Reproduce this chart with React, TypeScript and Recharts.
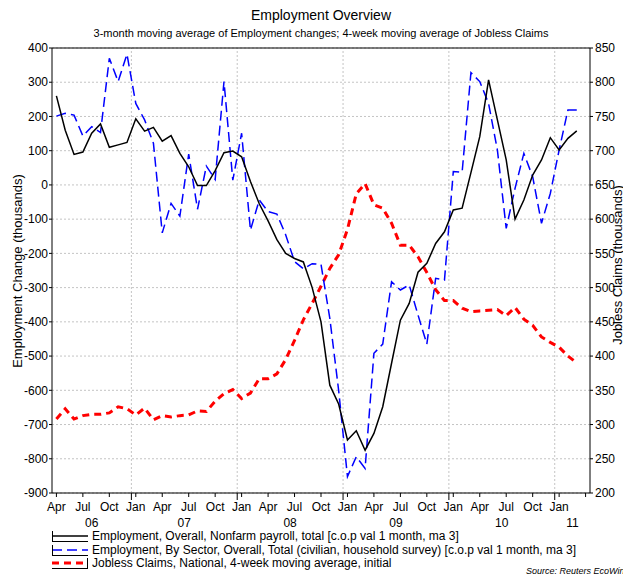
import React from "react";
import { CartesianGrid, Line, LineChart, ReferenceLine, XAxis, YAxis } from "recharts";

// Monthly points, Apr 2006 .. Mar 2011 (x = months since Jan 2006, plotted mid-month)
const MONTHS: number[] = Array.from({ length: 60 }, (_, i) => 3.5 + i);

// 3-month MA of nonfarm payroll change (thousands)
const NONFARM = [
  260, 160, 89, 96, 151, 178, 110, 117, 124,
  193, 157, 168, 128, 144, 92, 53, -2, -2, 42, 94, 99,
  82, 10, -55, -105, -160, -200, -215, -225, -300, -400, -585, -640,
  -745, -718, -775, -726, -648, -521, -395, -346, -255, -229, -171, -137,
  -73, -68, 36, 141, 307, 190, 73, -100, -44, 29, 73, 138,
  102, 136, 158,
];

// 3-month MA of household survey employment change (thousands)
const HOUSEHOLD = [
  201, 209, 204, 143, 170, 153, 370, 302, 382,
  238, 190, 122, -140, -54, -91, 90, -71, 55, 16, 302, 14,
  151, -132, -44, -78, -85, -146, -224, -245, -230, -232, -390, -600,
  -852, -794, -828, -492, -465, -283, -307, -292, -380, -465, -273, -278,
  39, 37, 328, 302, 238, 102, -127, -10, 92, 24, -112, -25,
  102, 219, 219,
];

// Jobless claims, 4-week MA (thousands, right axis)
const JOBLESS = [
  308, 323, 308, 313, 315, 315, 317, 326, 323,
  314, 324, 307, 313, 311, 313, 314, 320, 319, 334, 345, 351,
  338, 346, 367, 367, 374, 395, 423, 453, 477, 502, 528, 548,
  585, 637, 652, 621, 616, 594, 562, 562, 545, 522, 497, 481,
  481, 470, 465, 466, 467, 468, 459, 471, 454, 445, 428, 420,
  413, 400, 390,
];

const QUARTER_TICKS = [3.5, 6.5, 9.5, 12.5, 15.5, 18.5, 21.5, 24.5, 27.5, 30.5, 33.5, 36.5, 39.5, 42.5, 45.5, 48.5, 51.5, 54.5, 57.5, 60.5, 63.5];
const QUARTER_LABELS = ["Apr", "Jul", "Oct", "Jan", "Apr", "Jul", "Oct", "Jan", "Apr", "Jul", "Oct", "Jan", "Apr", "Jul", "Oct", "Jan", "Apr", "Jul", "Oct", "Jan", ""];
const YEAR_BOUNDS = [12, 24, 36, 48, 60];
const YEAR_LABEL_POS = [7.5, 18, 30, 42, 54, 62];
const YEAR_LABELS = ["06", "07", "08", "09", "10", "11"];

const LEFT_TICKS = [400, 300, 200, 100, 0, -100, -200, -300, -400, -500, -600, -700, -800, -900];
const RIGHT_TICKS = [850, 800, 750, 700, 650, 600, 550, 500, 450, 400, 350, 300, 250, 200];

const FONT = "'Liberation Sans', Arial, sans-serif";
const GRID = "#c4c4c4";

const data = MONTHS.map((t, i) => ({ t, nfp: NONFARM[i], hh: HOUSEHOLD[i], jc: JOBLESS[i] }));

function MonthTick(props: any) {
  const { x, y, payload } = props;
  const v = payload.value;
  const qi = QUARTER_TICKS.indexOf(v);
  const yi = YEAR_LABEL_POS.indexOf(v);
  if (YEAR_BOUNDS.includes(v)) {
    return <line x1={x} x2={x} y1={y} y2={y + 7} stroke="#000" />;
  }
  if (qi >= 0) {
    return (
      <g>
        <line x1={x} x2={x} y1={y} y2={y + 4} stroke="#000" />
        <text x={x} y={y + 18} textAnchor="middle" fontSize={12} fontFamily={FONT} fill="#000">
          {QUARTER_LABELS[qi]}
        </text>
      </g>
    );
  }
  if (yi >= 0) {
    return (
      <text x={x} y={y + 34} textAnchor="middle" fontSize={12} fontFamily={FONT} fill="#000">
        {YEAR_LABELS[yi]}
      </text>
    );
  }
  return null;
}

const legendRows = [
  { label: "Employment, Overall, Nonfarm payroll, total [c.o.p val 1 month, ma 3]", color: "#000", dash: "", width: 1.5, side: "left" },
  { label: "Employment, By Sector, Overall, Total (civilian, household survey) [c.o.p val 1 month, ma 3]", color: "#0000ff", dash: "10 5", width: 1.5, side: "left" },
  { label: "Jobless Claims, National, 4-week moving average, initial", color: "#ff0000", dash: "7 5", width: 3, side: "right" },
];

export default function App() {
  return (
    <div style={{ position: "absolute", left: 0, top: 0, width: 623, height: 576, background: "#fff", overflow: "hidden", fontFamily: FONT }}>
      <div style={{ position: "absolute", left: 0, width: 642, top: 6, textAlign: "center", fontSize: 14, lineHeight: "18px" }}>
        Employment Overview
      </div>
      <div style={{ position: "absolute", left: 0, width: 642, top: 26, textAlign: "center", fontSize: 11, lineHeight: "14px" }}>
        3-month moving average of Employment changes; 4-week moving average of Jobless Claims
      </div>
      <div style={{ position: "absolute", left: 17, top: 271, transform: "translate(-50%, -50%) rotate(-90deg)", whiteSpace: "nowrap", fontSize: 13 }}>
        Employment Change (thousands)
      </div>
      <div style={{ position: "absolute", left: 617, top: 265, transform: "translate(-50%, -50%) rotate(-90deg)", whiteSpace: "nowrap", fontSize: 13 }}>
        Jobless Claims (thousands)
      </div>

      <LineChart width={623} height={576} data={data} margin={{ top: 48, right: 0, left: 0, bottom: 61 }} style={{ position: "absolute", left: 0, top: 0 }}>
        <CartesianGrid vertical={false} yAxisId="left" stroke={GRID} strokeDasharray="2 2" />
        <XAxis
          dataKey="t"
          type="number"
          domain={[3, 64]}
          ticks={[...QUARTER_TICKS, ...YEAR_BOUNDS, ...YEAR_LABEL_POS]}
          interval={0}
          tick={<MonthTick />}
          tickLine={false}
          tickSize={0}
          tickMargin={0}
          height={22}
          axisLine={{ stroke: "#000" }}
          allowDataOverflow
        />
        <YAxis
          yAxisId="left"
          domain={[-900, 400]}
          ticks={LEFT_TICKS}
          interval={0}
          width={52}
          tickSize={3}
          tickMargin={1}
          tick={{ fontSize: 12, fontFamily: FONT, fill: "#000" }}
          axisLine={{ stroke: "#000" }}
          tickLine={{ stroke: "#000" }}
          allowDataOverflow
        />
        <YAxis
          yAxisId="right"
          orientation="right"
          domain={[200, 850]}
          ticks={RIGHT_TICKS}
          interval={0}
          width={33}
          tickSize={3}
          tickMargin={2}
          tick={{ fontSize: 12, fontFamily: FONT, fill: "#000" }}
          axisLine={{ stroke: "#000" }}
          tickLine={{ stroke: "#000" }}
          allowDataOverflow
        />
        {YEAR_BOUNDS.map((b) => (
          <ReferenceLine key={b} x={b} yAxisId="left" stroke={GRID} strokeDasharray="2 2" />
        ))}
        <ReferenceLine y={400} yAxisId="left" stroke="#000" />
        <Line yAxisId="right" dataKey="jc" stroke="#ff0000" strokeWidth={3} strokeDasharray="7 5" dot={false} activeDot={false} isAnimationActive={false} />
        <Line yAxisId="left" dataKey="hh" stroke="#0000ff" strokeWidth={1.5} strokeDasharray="10 5" dot={false} activeDot={false} isAnimationActive={false} />
        <Line yAxisId="left" dataKey="nfp" stroke="#000000" strokeWidth={1.5} dot={false} activeDot={false} isAnimationActive={false} />
      </LineChart>

      {legendRows.map((r, i) => (
        <div key={i} style={{ position: "absolute", left: 50, top: 529 + i * 13.5, height: 14, display: "flex", alignItems: "center", fontSize: 12, whiteSpace: "nowrap" }}>
          <svg width={40} height={14} style={{ display: "block" }}>
            <line x1={2} x2={38} y1={7} y2={7} stroke={r.color} strokeWidth={r.width} strokeDasharray={r.dash} />
            <line x1={2} x2={38} y1={12.5} y2={12.5} stroke="#000" strokeWidth={1} />
            <line x1={r.side === "left" ? 2.5 : 37.5} x2={r.side === "left" ? 2.5 : 37.5} y1={2} y2={13} stroke="#000" strokeWidth={1} />
          </svg>
          <span style={{ marginLeft: 2 }}>{r.label}</span>
        </div>
      ))}
      <div style={{ position: "absolute", left: 526, top: 566, fontSize: 9, fontStyle: "italic", whiteSpace: "nowrap" }}>
        Source: Reuters EcoWin
      </div>
    </div>
  );
}
